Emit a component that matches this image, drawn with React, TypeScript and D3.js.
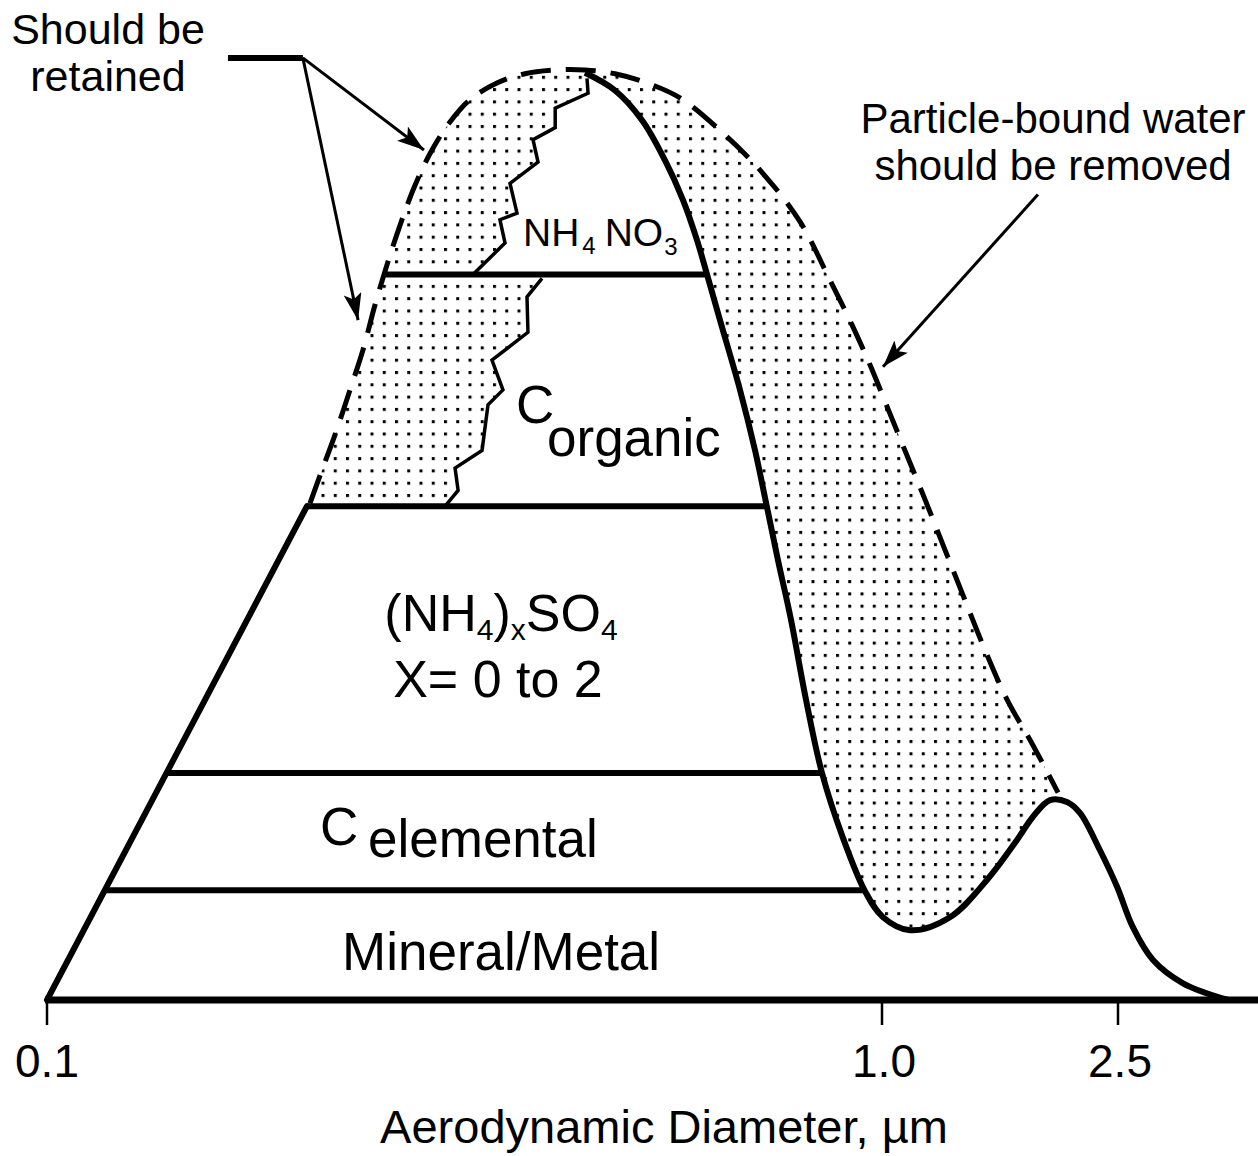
import React from "react";
import * as d3 from "d3";

// ---------- data (aerodynamic diameter in µm, relative mass in %) ----------
const tickValues = [0.1, 1.0, 2.5];
const tickLabels = ["0.1", "1.0", "2.5"];
const axisEnd = 4.27;

// dry (solid) mass distribution, from the fine-mode peak to the coarse tail
const dryDiam = [0.4409, 0.479, 0.516, 0.5496, 0.5777, 0.6004, 0.6173, 0.6397, 0.676, 0.7046,
  0.7282, 0.7506, 0.778, 0.8109, 0.8475, 0.8957, 0.9542, 1.004, 1.115, 1.302,
  1.503, 1.689, 1.797, 1.92, 2.051, 2.158, 2.331, 2.49, 2.65, 2.864, 3.218, 3.832];
const dryMass = [99.7, 97.8, 94.6, 90.3, 86.0, 81.7, 78.0, 73.1, 65.6, 59.1,
  53.0, 47.3, 40.9, 32.3, 24.4, 17.7, 11.7, 8.9, 7.5, 8.9,
  12.9, 17.2, 19.7, 21.5, 21.3, 20.1, 16.1, 12.2, 7.8, 4.3, 1.8, 0];

// wet (dashed) envelope including particle-bound water
const wetDiam = [0.2065, 0.2135, 0.2213, 0.2306, 0.239, 0.247, 0.2553, 0.2647, 0.2759, 0.2891,
  0.3038, 0.321, 0.3458, 0.3736, 0.4061, 0.4409, 0.479, 0.5231, 0.5729, 0.6452,
  0.7182, 0.7976, 0.8664, 0.9206, 0.9674, 1.02, 1.093, 1.182, 1.277, 1.38,
  1.492, 1.625, 1.797, 1.981];
const wetMass = [53.4, 57.0, 60.8, 65.6, 69.9, 74.7, 79.0, 83.3, 87.6, 91.4,
  94.4, 96.8, 98.6, 99.6, 100, 100, 99.6, 98.6, 97.0, 93.2,
  89.0, 83.7, 77.4, 72.6, 68.3, 63.8, 59.1, 53.8, 48.4, 43.0,
  37.6, 32.3, 27.4, 22.3];

// jagged boundary of the NH4NO3 layer (volatile part)
const nitrateEdgeDiam = [0.4433, 0.4446, 0.4061, 0.4061, 0.382, 0.3873, 0.3585, 0.3655, 0.3487, 0.3536, 0.3237];
const nitrateEdgeMass = [99.1, 97.5, 95.9, 93.8, 92.5, 90.1, 87.8, 84.6, 83.9, 81.4, 78.0];

// jagged boundary of the organic carbon layer (semi-volatile part)
const organicEdgeDiam = [0.3916, 0.3757, 0.3767, 0.3411, 0.3516, 0.3374, 0.3319, 0.3081, 0.3107, 0.2998];
const organicEdgeMass = [77.6, 75.6, 71.8, 68.8, 65.6, 64.0, 59.1, 57.2, 54.8, 53.1];

// layer boundaries (relative mass), top to bottom
const layerLevels = [78.0, 53.1, 24.4, 11.8];
// left shoulder of the stacked composition
const shoulderDiam = 0.2048;
const shoulderMass = 53.1;

// annotation anchors
const retainedStart: [number, number] = [0.1647, 101.3];
const retainedElbow: [number, number] = [0.2025, 101.3];
const retainedTips: [number, number][] = [[0.2828, 91.4], [0.2358, 73.1]];
const waterTail: [number, number] = [1.832, 86.6];
const waterTip: [number, number] = [1.004, 68.1];

const FONT = "'Liberation Sans', Arial, Helvetica, sans-serif";

export default function App() {
  const W = 1258, H = 1156;
  const x = d3.scaleLog().domain([0.1, 1, 2.5]).range([47, 882, 1118]);
  const y = d3.scaleLinear().domain([0, 100]).range([1000, 70]);
  const pts = (ds: number[], ms: number[]): [number, number][] => ds.map((d, i) => [x(d), y(ms[i])]);

  const dry = pts(dryDiam, dryMass);
  const wet = pts(wetDiam, wetMass);
  const jagA = pts(nitrateEdgeDiam, nitrateEdgeMass);
  const jagB = pts(organicEdgeDiam, organicEdgeMass);

  const smooth = d3.line().curve(d3.curveCatmullRom.alpha(0.5));
  const straight = d3.line();

  // indices on dry curve
  let iMin = 1;
  while (iMin < dryMass.length - 1 && !(dryMass[iMin] < dryMass[iMin - 1] && dryMass[iMin] <= dryMass[iMin + 1])) iMin++;
  const iBump = iMin + (d3.maxIndex(dryMass.slice(iMin)) as number);
  const firstBelow = (lvl: number) => dryMass.findIndex((m) => m <= lvl + 0.15);
  const i78 = firstBelow(layerLevels[0]);
  const i53 = firstBelow(layerLevels[1]);

  const interpX = (P: [number, number][], yy: number) => {
    for (let i = 0; i < P.length - 1; i++) {
      const [x0, y0] = P[i], [x1, y1] = P[i + 1];
      if ((y0 - yy) * (y1 - yy) <= 0 && y0 !== y1) return x0 + ((yy - y0) / (y1 - y0)) * (x1 - x0);
    }
    return P[P.length - 1][0];
  };
  const dryRight = dry.slice(0, iMin + 1);
  const wetPeak = d3.maxIndex(wetMass) as number;
  const wetLeft = wet.slice(0, wetPeak + 1);

  const rev = (a: [number, number][]) => a.slice().reverse();
  const stipplePath = smooth(wet)! + "L" + smooth(rev(dry.slice(i53, iBump + 1)))!.slice(1) + "Z";
  const nitratePath = straight(jagA)! + "L" + smooth(rev(dry.slice(0, i78 + 1)))!.slice(1) + "Z";
  const organicPath = straight(jagB)! + "L" + smooth(rev(dry.slice(i78, i53 + 1)))!.slice(1) + "Z";

  const x0 = x(0.1), y0 = y(0);
  const xs = x(shoulderDiam), ys = y(shoulderMass);
  const leftEdgeX = (lvl: number) => x0 + (xs - x0) * (lvl / shoulderMass);

  const layerLines = layerLevels.map((lvl, k) => {
    const yy = y(lvl);
    const xl = k === 0 ? interpX(wetLeft, yy) : leftEdgeX(lvl);
    const xr = interpX(dryRight, yy);
    return { xl, xr, yy };
  });

  const P = (p: [number, number]) => [x(p[0]), y(p[1])];
  const [rsx, rsy] = P(retainedStart);
  const [rex, rey] = P(retainedElbow);
  const [wtx, wty] = P(waterTail);
  const [wpx, wpy] = P(waterTip);

  const sub = 30;

  return (
    <svg width={W} height={H} style={{ position: "absolute", left: 0, top: 0, background: "#fff" }}
      fontFamily={FONT}>
      <defs>
        <pattern id="dots" patternUnits="userSpaceOnUse" width={12.25} height={12.3} x={3} y={2}>
          <rect x={0} y={0} width={3} height={3} fill="#000" />
        </pattern>
        <marker id="ah" markerUnits="userSpaceOnUse" markerWidth={28} markerHeight={20}
          refX={27} refY={9} orient="auto">
          <path d="M0,0 L27,9 L0,18 L6,9 Z" fill="#000" />
        </marker>
      </defs>
      <rect width={W} height={H} fill="#fff" />

      {/* stippled water region */}
      <path d={stipplePath} fill="url(#dots)" stroke="none" />
      <path d={nitratePath} fill="#fff" stroke="none" />
      <path d={organicPath} fill="#fff" stroke="none" />

      {/* wet envelope */}
      <path d={smooth(wet)!} fill="none" stroke="#000" strokeWidth={5} strokeDasharray="30 15" />

      {/* jagged boundaries */}
      <path d={straight(jagA)!} fill="none" stroke="#000" strokeWidth={3.5} strokeLinejoin="miter" />
      <path d={straight(jagB)!} fill="none" stroke="#000" strokeWidth={3.5} strokeLinejoin="miter" />

      {/* layers */}
      {layerLines.map((l, i) => (
        <line key={i} x1={l.xl} x2={l.xr} y1={l.yy} y2={l.yy} stroke="#000" strokeWidth={6} />
      ))}
      <line x1={x0} y1={y0} x2={xs} y2={ys} stroke="#000" strokeWidth={6} strokeLinecap="round" />

      {/* dry distribution */}
      <path d={smooth(dry)!} fill="none" stroke="#000" strokeWidth={6} strokeLinejoin="round" />

      {/* axis */}
      <line x1={x0 - 2} x2={x(axisEnd) + 4} y1={y0} y2={y0} stroke="#000" strokeWidth={7} />
      {tickValues.map((t, i) => (
        <g key={i}>
          <line x1={x(t)} x2={x(t)} y1={y0} y2={y0 + 25} stroke="#000" strokeWidth={2.5} />
          <text x={x(t) + (i === 0 ? 0 : 2)} y={1077} fontSize={46} textAnchor="middle">{tickLabels[i]}</text>
        </g>
      ))}
      <text x={664} y={1143} fontSize={47} textAnchor="middle">Aerodynamic Diameter, µm</text>

      {/* layer labels */}
      <text x={523} y={246} fontSize={39}>
        NH<tspan fontSize={24} dy={8} dx={3}>4</tspan>
        <tspan dy={-8} dx={9}>NO</tspan>
        <tspan fontSize={24} dy={9} dx={1}>3</tspan>
      </text>
      <text x={516} y={423} fontSize={53}>C</text>
      <text x={547} y={456} fontSize={53}>organic</text>

      <text x={501} y={631} fontSize={52} textAnchor="middle">
        (NH<tspan fontSize={sub} dy={9}>4</tspan>
        <tspan dy={-9}>)</tspan>
        <tspan fontSize={sub} dy={9}>x</tspan>
        <tspan dy={-9}>SO</tspan>
        <tspan fontSize={sub} dy={9}>4</tspan>
      </text>
      <text x={498} y={697} fontSize={52} textAnchor="middle">X= 0 to 2</text>

      <text x={320} y={845} fontSize={53}>C</text>
      <text x={368} y={857} fontSize={53}>elemental</text>
      <text x={342} y={970} fontSize={53}>Mineral/Metal</text>

      {/* annotations */}
      <text x={108} y={44} fontSize={43} textAnchor="middle">Should be</text>
      <text x={108} y={91} fontSize={43} textAnchor="middle">retained</text>
      <line x1={rsx} y1={rsy} x2={rex} y2={rey} stroke="#000" strokeWidth={6} />
      {retainedTips.map((t, i) => {
        const [tx, ty] = P(t);
        return <line key={i} x1={rex} y1={rey} x2={tx} y2={ty} stroke="#000" strokeWidth={3} markerEnd="url(#ah)" />;
      })}

      <text x={1053} y={133} fontSize={42} textAnchor="middle">Particle-bound water</text>
      <text x={1053} y={180} fontSize={42} textAnchor="middle">should be removed</text>
      <line x1={wtx} y1={wty} x2={wpx} y2={wpy} stroke="#000" strokeWidth={3} markerEnd="url(#ah)" />
    </svg>
  );
}
